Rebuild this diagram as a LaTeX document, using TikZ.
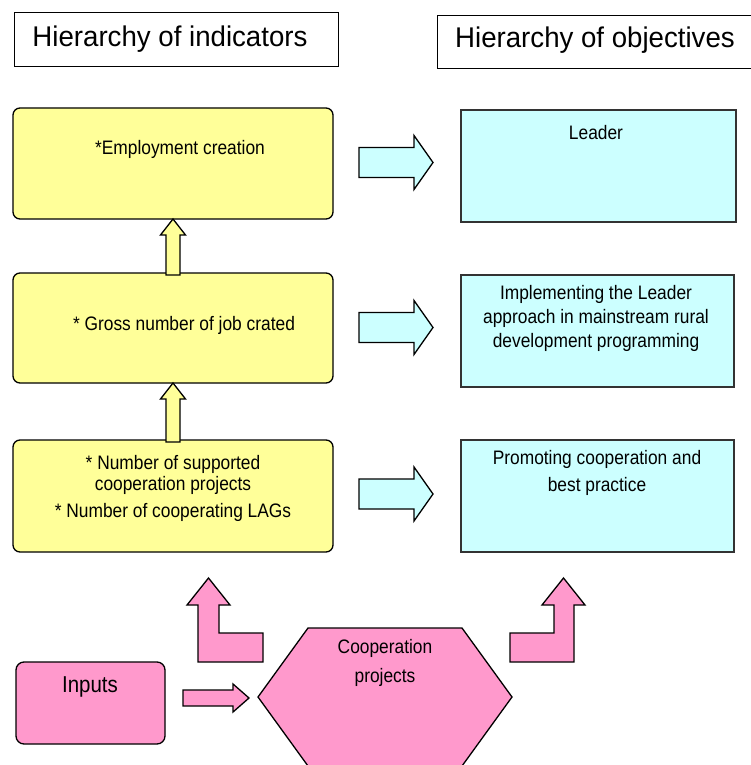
\documentclass[tikz,border=0pt]{standalone}
\usepackage{fontspec}
\setmainfont{Liberation Sans}
\newfontfamily\titlefont[FakeStretch=0.97]{Liberation Sans}
\newfontfamily\bodyfont[FakeStretch=0.89]{Liberation Sans}
\usetikzlibrary{calc}
\definecolor{yelfill}{HTML}{FFFF99}
\definecolor{cyanfill}{HTML}{CCFFFF}
\definecolor{pinkfill}{HTML}{FF99CC}
\definecolor{cyanline}{HTML}{333333}
\begin{document}
\begin{tikzpicture}[x=1pt,y=-1pt,
  titlebox/.style={draw=black, fill=white, line width=1pt, inner sep=0pt, outer sep=0pt, anchor=north west},
  ybox/.style={draw=black, fill=yelfill, line width=1.3pt, rounded corners=7pt, inner sep=0pt, outer sep=0pt, anchor=north west},
  cbox/.style={draw=cyanline, fill=cyanfill, line width=1.3pt, inner sep=0pt, outer sep=0pt, anchor=north west},
  pbox/.style={draw=black, fill=pinkfill, line width=1.3pt, rounded corners=8pt, inner sep=0pt, outer sep=0pt, anchor=north west},
  txt/.style={font=\bodyfont\fontsize{19.5}{21}\selectfont, align=center, inner sep=0pt},
  ttl/.style={font=\titlefont\fontsize{28.5}{34}\selectfont, inner sep=0pt},
  blockarrow/.style={draw=black, line width=1.3pt, line join=miter},
]
\useasboundingbox (0,0) rectangle (750,765);

% titles
\node[titlebox, minimum width=324pt, minimum height=54pt] (tb1) at (14,13) {};
\node[ttl] (tt1) at (170,39) {Hierarchy of indicators};
\node[titlebox, minimum width=315pt, minimum height=53pt] (tb2) at (437,16) {};
\node[ttl] (tt2) at (595,40) {Hierarchy of objectives};

% yellow indicator boxes
\node[ybox, minimum width=320pt, minimum height=111pt] (y1) at (13,108) {};
\node[ybox, minimum width=320pt, minimum height=110pt] (y2) at (13,273) {};
\node[ybox, minimum width=320pt, minimum height=112pt] (y3) at (13,440) {};
\node[txt] (ty1) at (180,149) {*Employment creation};
\node[txt] (ty2) at (184,325) {* Gross number of job crated};
\node[txt] (ty3) at (173,488) {* Number of supported\\cooperation projects\\[6pt]* Number of cooperating LAGs};

% cyan objective boxes
\node[cbox, minimum width=275pt, minimum height=112pt] (c1) at (461,110) {};
\node[cbox, minimum width=273pt, minimum height=112pt] (c2) at (461,275) {};
\node[cbox, minimum width=273pt, minimum height=112pt] (c3) at (461,440) {};
\node[txt] (tc1) at (596,133) {Leader};
\node[txt, font=\bodyfont\fontsize{19.5}{24}\selectfont] (tc2) at (596,318) {Implementing the Leader\\approach in mainstream rural\\development programming};
\node[txt, font=\bodyfont\fontsize{19.5}{27}\selectfont] (tc3) at (597,472.5) {Promoting cooperation and\\best practice};

% up arrows (yellow)
\foreach \lo/\hi in {y2/y1, y3/y2}{
  \draw[blockarrow, fill=yelfill]
    ($(\lo.north)+(-7,2)$) -- ($(\hi.south)+(-7,16)$) -- ($(\hi.south)+(-12.5,16)$)
    -- ($(\hi.south)+(0,0)$) -- ($(\hi.south)+(12.5,16)$) -- ($(\hi.south)+(7,16)$)
    -- ($(\lo.north)+(7,2)$) -- cycle;
}

% right arrows (cyan)
\foreach \yc in {162.5,327.5,494}{
  \draw[blockarrow, fill=cyanfill]
    (359,\yc-15) -- (414,\yc-15) -- (414,\yc-27) -- (433,\yc) -- (414,\yc+27)
    -- (414,\yc+15) -- (359,\yc+15) -- cycle;
}

% pink parts
\node[pbox, minimum width=149pt, minimum height=82pt] (in) at (16,662) {};
\node[txt, font=\bodyfont\fontsize{23}{26}\selectfont] (tin) at (90,687) {Inputs};

\coordinate (hex) at (385,697);
\draw[blockarrow, fill=pinkfill]
  (308,628) -- (462,628) -- (512,697) -- (462,766) -- (308,766) -- (258,697) -- cycle;
\node[txt] (thex) at (385,663) {Cooperation\\[8pt]projects};

% inputs -> cooperation projects
\draw[blockarrow, fill=pinkfill]
  (183,690) -- (233,690) -- (233,684) -- (249,698) -- (233,712) -- (233,706) -- (183,706) -- cycle;

% bent arrows
\draw[blockarrow, fill=pinkfill]
  (198,662) -- (263,662) -- (263,633) -- (219,633) -- (219,605) -- (230,605)
  -- (208.5,578) -- (187,605) -- (198,605) -- cycle;
\draw[blockarrow, fill=pinkfill]
  (510,662) -- (574,662) -- (574,605) -- (585,605) -- (563.5,578) -- (542,605)
  -- (554,605) -- (554,633) -- (510,633) -- cycle;
\end{tikzpicture}
\end{document}
